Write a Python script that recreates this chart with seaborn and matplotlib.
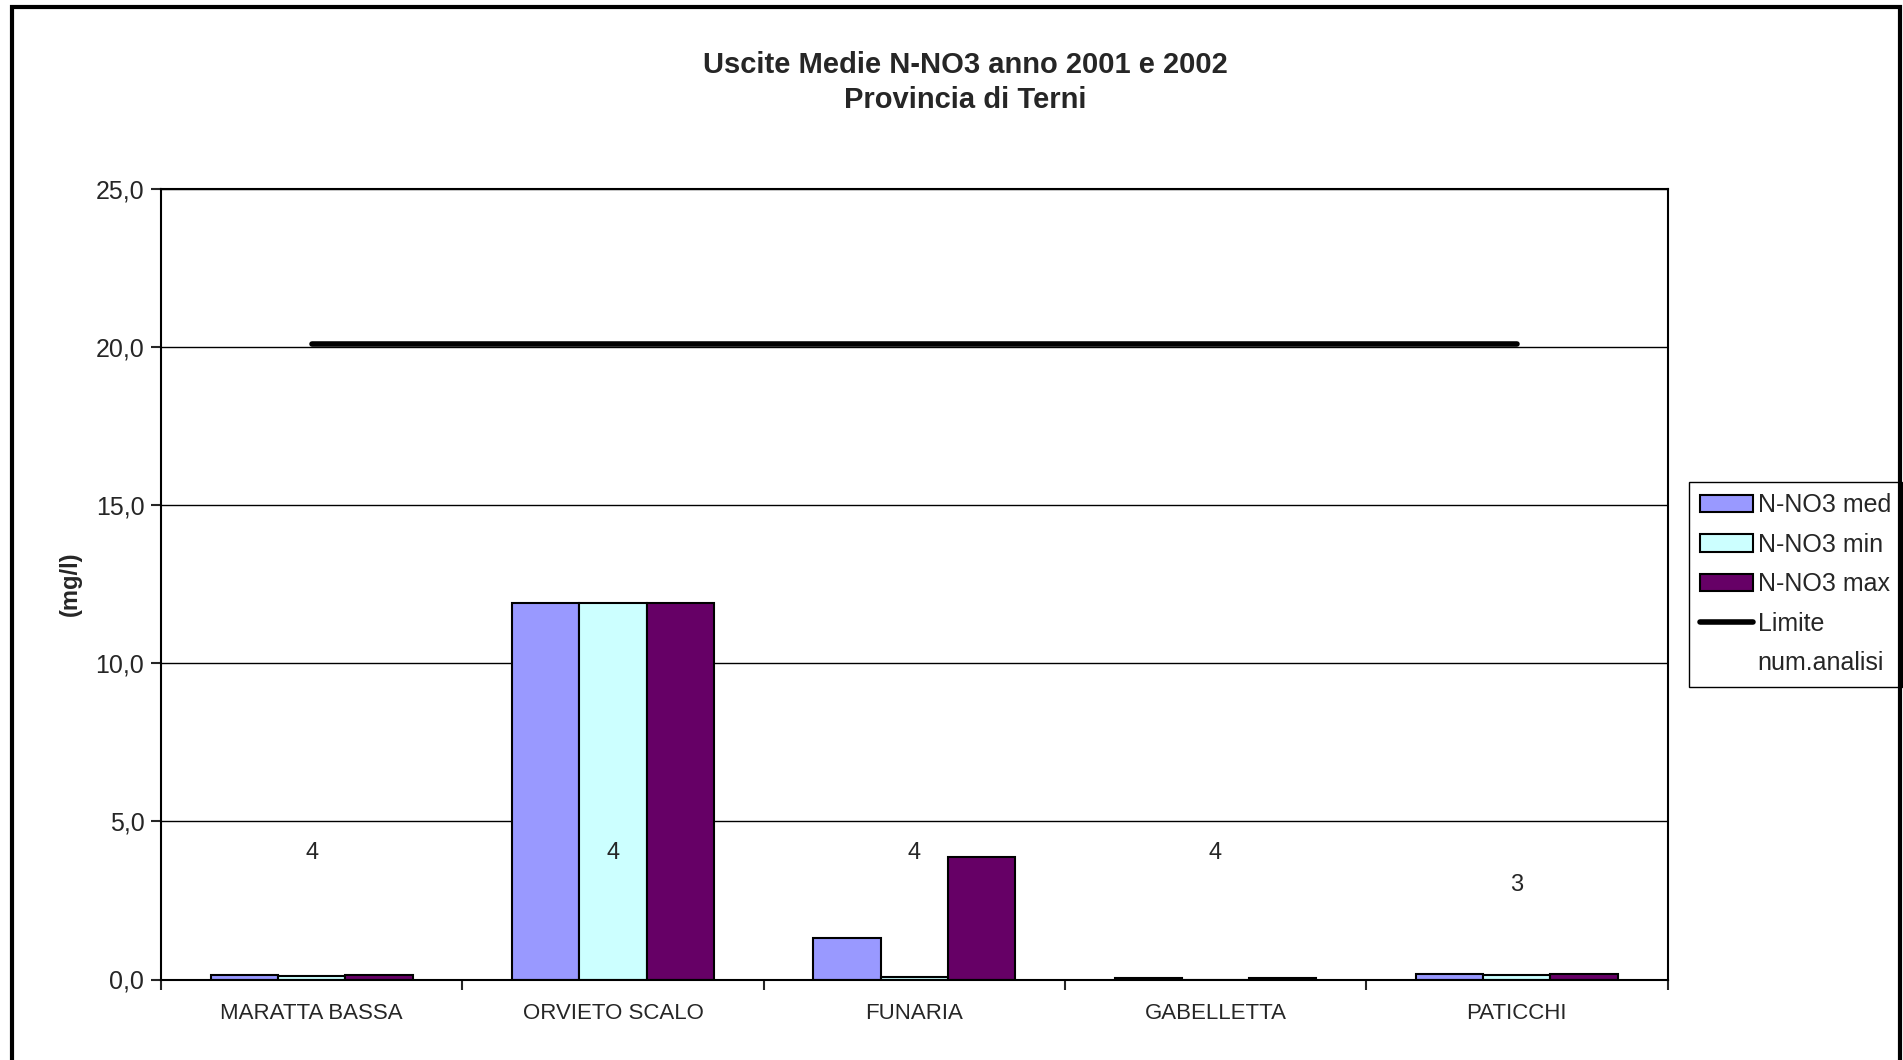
"""
Uscite medie N-NO3 (2001-2002), Provincia di Terni — grouped bars + limit line.
"""
import matplotlib
matplotlib.use("Agg")
import matplotlib.pyplot as plt
from matplotlib.patches import Rectangle
from matplotlib.ticker import FuncFormatter, FixedLocator
import numpy as np
import pandas as pd
import seaborn as sns

STATIONS = ["MARATTA BASSA", "ORVIETO SCALO", "FUNARIA", "GABELLETTA", "PATICCHI"]
NO3_MED = [0.13, 11.9, 1.32, 0.06, 0.18]
NO3_MIN = [0.12, 11.9, 0.08, 0.0, 0.13]
NO3_MAX = [0.13, 11.9, 3.87, 0.06, 0.18]
LIMITE = [20.1, 20.1, 20.1, 20.1, 20.1]
NUM_ANALISI = [4, 4, 4, 4, 3]

SERIES = ["N-NO3 med", "N-NO3 min", "N-NO3 max"]
COLORS = ["#9999FF", "#CCFFFF", "#660066"]

sns.set_style("white")
plt.rcParams["font.family"] = ["Liberation Sans", "DejaVu Sans"]

df = pd.DataFrame({
    "station": STATIONS * 3,
    "serie": [s for s in SERIES for _ in STATIONS],
    "value": NO3_MED + NO3_MIN + NO3_MAX,
})

fig = plt.figure(figsize=(19.03, 10.60), dpi=100)
ax = fig.add_axes([161 / 1903, 1 - 979.5 / 1060, 1506.5 / 1903, 790.5 / 1060])

sns.barplot(data=df, x="station", y="value", hue="serie", order=STATIONS,
            hue_order=SERIES, palette=COLORS, width=0.67, gap=0,
            edgecolor="black", linewidth=1.5, saturation=1, ax=ax)

x = np.arange(len(STATIONS))
ax.plot(x, LIMITE, color="black", linewidth=4, solid_capstyle="round", label="Limite")
ax.plot(x, NUM_ANALISI, linestyle="none", label="num.analisi")
for xi, n in zip(x, NUM_ANALISI):
    ax.text(xi, n, str(n), ha="center", va="center", fontsize=17)

ax.set_ylim(0, 25)
ax.set_xlim(-0.5, len(STATIONS) - 0.5)
ax.set_yticks(np.arange(0, 26, 5))
ax.yaxis.set_major_formatter(FuncFormatter(lambda v, _: f"{v:.1f}".replace(".", ",")))
ax.grid(axis="y", color="black", linewidth=1)
ax.set_axisbelow(True)
for sp in ax.spines.values():
    sp.set_color("black")
    sp.set_linewidth(1.5)

ax.tick_params(axis="y", direction="out", length=7, width=1.5, labelsize=18, pad=5, left=True)
ax.tick_params(axis="x", which="major", length=0, labelsize=16, pad=17)
ax.xaxis.set_minor_locator(FixedLocator(np.arange(-0.5, len(STATIONS), 1.0)))
ax.tick_params(axis="x", which="minor", direction="out", length=7, width=1.5, bottom=True)
ax.set_xlabel("")
ax.set_ylabel("(mg/l)", fontsize=17, fontweight="bold", labelpad=10)

ax.legend(loc="upper left", bbox_to_anchor=(1689 / 1903, 1 - 482 / 1060),
          bbox_transform=fig.transFigure, borderaxespad=0, fontsize=18,
          frameon=True, fancybox=False, edgecolor="black", framealpha=1,
          handlelength=2.1, handleheight=0.7, handletextpad=0.2,
          labelspacing=0.62, borderpad=0.45)

fig.text(965 / 1903, 1 - 82.5 / 1060,
         "Uscite Medie N-NO3 anno 2001 e 2002\nProvincia di Terni",
         ha="center", va="center", fontsize=21, fontweight="bold", linespacing=1.3)

# outer chart-area frame
fig.patches.append(Rectangle((12 / 1903, -0.05), 1888 / 1903, 1.05 - 7 / 1060,
                             transform=fig.transFigure, fill=False,
                             edgecolor="black", linewidth=3))

fig.savefig("out.png", dpi=100, facecolor="white")
